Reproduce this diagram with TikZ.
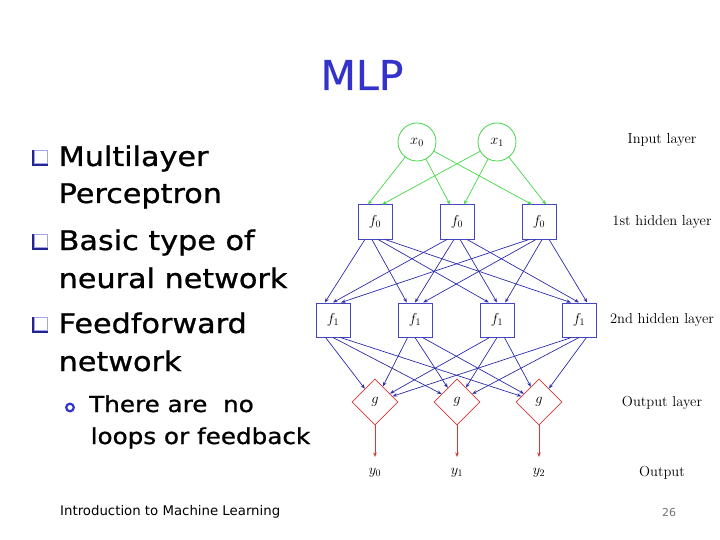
\documentclass[tikz,border=0pt]{standalone}
\usepackage{fontspec}
\usepackage{tikz}
\usetikzlibrary{arrows.meta,shapes.geometric,positioning}
\newfontfamily\slidefont[FakeStretch=1.12, FakeBold=0.9]{DejaVu Sans}
\newfontfamily\footfont{DejaVu Sans}
\newfontfamily\titlefont[FakeBold=0.6]{DejaVu Sans}
\definecolor{ingreen}{RGB}{70,215,70}
\definecolor{hidblue}{RGB}{45,45,170}
\definecolor{boxblue}{RGB}{70,70,190}
\definecolor{outred}{RGB}{215,55,55}
\definecolor{slideblue}{RGB}{51,51,204}
\tikzset{node distance=82pt, >={Stealth[length=4.5pt,width=3.5pt]},
  netfont/.style={font=\fontsize{14.5}{17}\selectfont},
  innode/.style={circle, draw=ingreen, line width=0.8pt, minimum size=38pt, inner sep=0pt, netfont},
  hidbox/.style={rectangle, draw=boxblue, line width=1pt, minimum size=34pt, inner sep=0pt, netfont},
  outdiam/.style={diamond, aspect=1, draw=outred, line width=0.8pt, minimum size=46pt, inner sep=0pt, netfont},
  layerlbl/.style={netfont},
  itemtxt/.style={anchor=base west, inner sep=0pt, font=\slidefont\fontsize{27}{32}\selectfont},
  subtxt/.style={anchor=base west, inner sep=0pt, font=\slidefont\fontsize{22}{26}\selectfont},
  wire/.style={->, line width=0.7pt}
}

\begin{document}
\begin{tikzpicture}[x=1pt, y=-1pt]
		\fill[white](0,0) rectangle (720,540);
		\useasboundingbox (0,0) rectangle (720,540);
		% slide title and text
		\node(T)[anchor=base, inner sep=0pt, text=slideblue, font=\titlefont\fontsize{41}{48}\selectfont] at (362,90){MLP};
		\foreach \y in {166,250,333}{
			\fill[slideblue!70!black](32,\y-16) rectangle (47.5,\y);
			\filldraw[fill=white, draw=slideblue!45, line width=0.6pt](34.5,\y-15.3) rectangle (46.8,\y-2.6);
		}
		\node(L1)[itemtxt] at (58.5,166){Multilayer};
		\node(L2)[itemtxt] at (58.5,203){Perceptron};
		\node(L3)[itemtxt] at (58.5,250){Basic type of};
		\node(L4)[itemtxt] at (58.5,288){neural network};
		\node(L5)[itemtxt] at (58.5,333){Feedforward};
		\node(L6)[itemtxt] at (58.5,371){network};
		\draw[slideblue, line width=2.2pt](70,407.5) circle (3.8pt);
		\node(S1)[subtxt] at (89,412){There are~ no};
		\node(S2)[subtxt] at (90.5,444){loops or feedback};
		\node(Foot)[anchor=base west, inner sep=0pt, font=\footfont\fontsize{13.3}{16}\selectfont] at (60,515){Introduction to Machine Learning};
		\node(Num)[anchor=base, inner sep=0pt, text=black!55, font=\footfont\fontsize{11}{13}\selectfont] at (669,516){26};
		% network
		\node(X0)[innode] at (417,142){$x_0$};
		\node(X1)[innode, right of=X0, node distance=80pt]{$x_1$};
		\node(H0)[hidbox] at (375,222){$f_0$};
		\node(H1)[hidbox, right of=H0]{$f_0$};
		\node(H2)[hidbox, right of=H1]{$f_0$};
		\node(K0)[hidbox] at (333,320){$f_1$};
		\node(K1)[hidbox, right of=K0]{$f_1$};
		\node(K2)[hidbox, right of=K1]{$f_1$};
		\node(K3)[hidbox, right of=K2]{$f_1$};
		\node(G0)[outdiam] at (375,402){$g$};
		\node(G1)[outdiam, right of=G0]{$g$};
		\node(G2)[outdiam, right of=G1]{$g$};
		\node(Y0)[netfont] at (375,473){$y_0$};
		\node(Y1)[netfont, right of=Y0]{$y_1$};
		\node(Y2)[netfont, right of=Y1]{$y_2$};
		% layer names
		\node(NIn)[layerlbl] at (662,140){Input layer};
		\node(NH1)[layerlbl] at (662,222){1st hidden layer};
		\node(NH2)[layerlbl] at (662,320){2nd hidden layer};
		\node(NOut)[layerlbl] at (662,403){Output layer};
		\node(NY)[layerlbl] at (662,473){Output};
		% connections
		\foreach \s/\b in {X0/112, X1/68}
			\foreach \t in {H0,H1,H2}
				\draw[wire, ingreen](\s) to (\t.\b);
		\foreach \s/\b in {H0/115, H1/90, H2/65}
			\foreach \t/\a in {K0/240, K1/260, K2/280, K3/300}
				\draw[wire, hidblue](\s.\a) to (\t.\b);
		\foreach \s in {K0,K1,K2,K3}
			\foreach \t/\a in {G0/247, G1/270, G2/293}
				\draw[wire, hidblue](\s.\a) to (\t);
		\foreach \g/\o in {G0/Y0, G1/Y1, G2/Y2}
			\draw[wire, outred, shorten >=8pt](\g) to (\o);
	\end{tikzpicture}
\end{document}
